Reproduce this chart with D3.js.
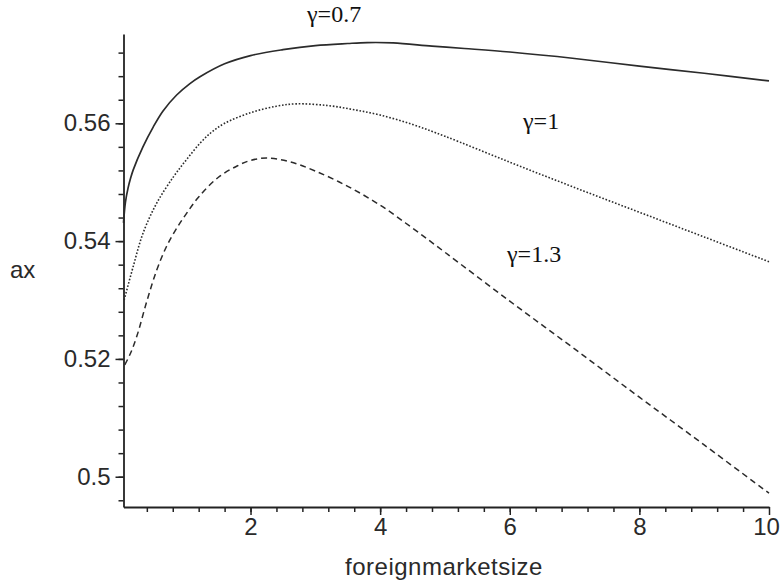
<!DOCTYPE html>
<html>
<head>
<meta charset="utf-8">
<script src="https://cdn.jsdelivr.net/npm/d3@7"></script>
<style>
  body { margin: 0; background: #fff; }
  svg { display: block; }
  .tick text { font-family: "Liberation Sans", Arial, sans-serif; font-size: 24px; fill: #2a2a2a; }
</style>
</head>
<body>
<svg id="chart"></svg>
<script>
// values
const solidX = [0.04, 0.07, 0.11, 0.15, 0.19, 0.34, 0.5, 0.65, 0.86, 1.06, 1.22, 1.6, 2, 2.5, 3, 3.5, 3.8, 4.2, 4.8, 5.3, 6, 7, 8, 9, 10];
const solidY = [0.5431, 0.5466, 0.5490, 0.5507, 0.5521, 0.5560, 0.5594, 0.5621, 0.5648, 0.5667, 0.5679, 0.5701, 0.5715, 0.5725, 0.5732, 0.57355, 0.5737, 0.57365, 0.5731, 0.5727, 0.5721, 0.5710, 0.5697, 0.5685, 0.5672];

const dottedX = [0.05, 0.19, 0.34, 0.55, 0.81, 1.01, 1.22, 1.4, 1.6, 2, 2.4, 2.7, 3.2, 3.6, 4, 4.5, 5, 6, 7, 8, 9, 10];
const dottedY = [0.5300, 0.5357, 0.5413, 0.5464, 0.5509, 0.5538, 0.5566, 0.5585, 0.5600, 0.5618, 0.5629, 0.5633, 0.5630, 0.5623, 0.5614, 0.5598, 0.5578, 0.5534, 0.5491, 0.5449, 0.5407, 0.5365];

const dashedX = [0.06, 0.15, 0.25, 0.4, 0.55, 0.7, 0.85, 1.0, 1.2, 1.5, 1.8, 2, 2.25, 2.6, 3, 3.5, 4, 4.5, 5, 6, 7, 8, 9, 10];
const dashedY = [0.5190, 0.5210, 0.5240, 0.5298, 0.5350, 0.5390, 0.5420, 0.5445, 0.5475, 0.5508, 0.5528, 0.5537, 0.5541, 0.5535, 0.5519, 0.5493, 0.5461, 0.5422, 0.5381, 0.5298, 0.5217, 0.5135, 0.5054, 0.4972];

const xMajor = [2, 4, 6, 8, 10];
const yMajor = [0.5, 0.52, 0.54, 0.56];
const gammaLabels = ["γ=0.7", "γ=1", "γ=1.3"];

const w = 781, h = 586;

const svg = d3.select("#chart")
  .attr("width", w)
  .attr("height", h);

const x = d3.scaleLinear().domain([0.04, 10]).range([123.5, 769]);
const y = d3.scaleLinear().domain([0.49486, 0.57516]).range([507, 34]);

// minor ticks first, majors on top
const xMinor = d3.range(1, 25).map(i => i * 0.4);
const yMinor = d3.range(124, 144).map(i => i * 0.004);

svg.append("g")
  .attr("transform", "translate(0,507)")
  .call(d3.axisBottom(x).tickValues(xMinor).tickSize(5).tickSizeOuter(0).tickFormat(""))
  .call(g => g.select(".domain").remove())
  .selectAll("line").attr("stroke", "#222").attr("stroke-width", 1.5);

svg.append("g")
  .attr("transform", "translate(123.5,0)")
  .call(d3.axisLeft(y).tickValues(yMinor).tickSize(5).tickSizeOuter(0).tickFormat(""))
  .call(g => g.select(".domain").remove())
  .selectAll("line").attr("stroke", "#222").attr("stroke-width", 1.5);

const xAxis = svg.append("g")
  .attr("transform", "translate(0,507)")
  .call(d3.axisBottom(x).tickValues(xMajor).tickSize(8).tickSizeOuter(0).tickPadding(3).tickFormat(d => String(d)));

xAxis.selectAll(".tick text").attr("dx", d => d === 10 ? -3 : 0);

const yAxis = svg.append("g")
  .attr("transform", "translate(123.5,0)")
  .call(d3.axisLeft(y).tickValues(yMajor).tickSize(8).tickSizeOuter(0).tickPadding(5).tickFormat(d => String(d)));

[xAxis, yAxis].forEach(g => {
  g.select(".domain").attr("stroke", "#222").attr("stroke-width", 1.8);
  g.selectAll(".tick line").attr("stroke", "#222").attr("stroke-width", 1.5);
});

// axis titles
svg.append("text")
  .attr("x", 444)
  .attr("y", 575)
  .attr("text-anchor", "middle")
  .style("font-family", "'Liberation Sans', Arial, sans-serif")
  .style("font-size", "24px")
  .style("letter-spacing", "0.5px")
  .attr("fill", "#2a2a2a")
  .text("foreignmarketsize");

svg.append("text")
  .attr("x", 10)
  .attr("y", 278)
  .style("font-family", "'Liberation Sans', Arial, sans-serif")
  .style("font-size", "24px")
  .attr("fill", "#2a2a2a")
  .text("ax");

// curves
const line = d3.line()
  .x(d => x(d[0]))
  .y(d => y(d[1]))
  .curve(d3.curveCatmullRom.alpha(0.5));

const series = [
  { xs: solidX, ys: solidY, dash: null, width: 1.7 },
  { xs: dottedX, ys: dottedY, dash: "1.6,1.8", width: 1.6 },
  { xs: dashedX, ys: dashedY, dash: "6,4", width: 1.5 }
];

series.forEach(s => {
  svg.append("path")
    .datum(d3.zip(s.xs, s.ys))
    .attr("d", line)
    .attr("fill", "none")
    .attr("stroke", "#2b2b2b")
    .attr("stroke-width", s.width)
    .attr("stroke-dasharray", s.dash);
});

// gamma labels
const labelPos = [[307, 22], [523, 129], [507, 262]];
svg.selectAll(".gamma")
  .data(gammaLabels)
  .enter()
  .append("text")
  .attr("class", "gamma")
  .attr("x", (d, i) => labelPos[i][0])
  .attr("y", (d, i) => labelPos[i][1])
  .style("font-family", "'Liberation Serif', 'Times New Roman', serif")
  .style("font-size", "24px")
  .attr("fill", "#111")
  .text(d => d);
</script>
</body>
</html>
